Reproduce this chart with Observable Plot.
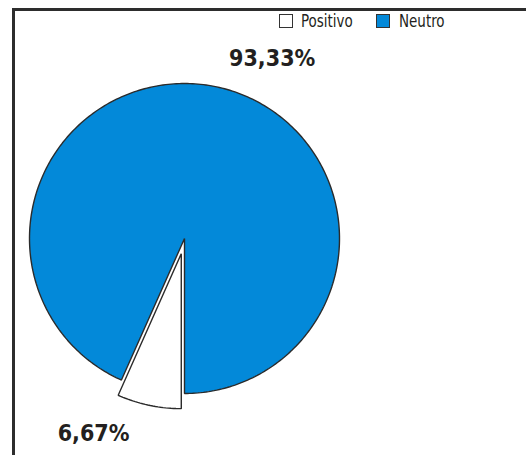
<!DOCTYPE html>
<html>
<head>
<meta charset="utf-8">
<script src="https://cdn.jsdelivr.net/npm/d3@7"></script>
<script src="https://cdn.jsdelivr.net/npm/@observablehq/plot@0.6"></script>
<style>
  html, body { margin: 0; padding: 0; background: #fff; }
  #wrap { position: relative; width: 526px; height: 455px; overflow: hidden; background: #fff; }
  #border { position: absolute; left: 12px; top: 8px; width: 600px; height: 600px; border: 3px solid #2d2d2d; box-sizing: border-box; }
  #chart { position: absolute; left: 0; top: 0; }
  #legend { position: absolute; left: 0; top: 0; width: 526px; height: 40px; font-family: "DejaVu Sans Condensed", "DejaVu Sans", sans-serif; font-stretch: condensed; font-size: 17px; color: #231f20; }
  .sw { position: absolute; top: 14px; width: 14px; height: 14px; border: 1px solid #333; box-sizing: border-box; }
  .lt { position: absolute; top: 11px; line-height: 20px; white-space: nowrap; transform: scaleX(0.88); transform-origin: left center; }
  #chart text { font-stretch: condensed; }
</style>
</head>
<body>
<div id="wrap">
  <div id="border"></div>
  <div id="chart"></div>
  <div id="legend"></div>
</div>
<script>
const categories = ["Positivo", "Neutro"];
const values = [6.67, 93.33];
const labels = ["6,67%", "93,33%"];
const colors = ["#ffffff", "#0389d9"];
const exploded = [0.1, 0];

const startAngle = Math.PI;          // pie starts at the bottom, clockwise
const total = d3.sum(values);
const labelShift = 14 * Math.PI / 180;
const labelR = 1.29;

const polys = [];
const labelRows = [];
let a0 = startAngle;
categories.forEach((c, i) => {
  const a1 = a0 + values[i] / total * 2 * Math.PI;
  const mid = (a0 + a1) / 2;
  const ox = exploded[i] * Math.sin(mid), oy = exploded[i] * Math.cos(mid);
  polys.push({cat: c, x: ox, y: oy, k: 0});
  const n = Math.max(2, Math.ceil((a1 - a0) / (Math.PI / 180)));
  for (let j = 0; j <= n; j++) {
    const a = a0 + (a1 - a0) * j / n;
    polys.push({cat: c, x: ox + Math.sin(a), y: oy + Math.cos(a), k: j + 1});
  }
  const la = mid + labelShift;
  labelRows.push({cat: c, text: labels[i], x: ox + labelR * Math.sin(la), y: oy + labelR * Math.cos(la)});
  a0 = a1;
});

const cx = 184, cy = 238, R = 155;
const chart = Plot.plot({
  width: 526,
  height: 455,
  margin: 0,
  style: {background: "transparent", overflow: "visible"},
  x: {domain: [-1, 1], range: [cx - R, cx + R], axis: null},
  y: {domain: [-1, 1], range: [cy + R, cy - R], axis: null},
  color: {domain: categories, range: colors},
  marks: [
    Plot.line(polys, {x: "x", y: "y", z: "cat", fill: "cat", stroke: "#2b2b2b", strokeWidth: 1.4, curve: "linear-closed", strokeLinejoin: "miter"}),
    Plot.text(labelRows, {x: "x", y: "y", text: "text", fill: "#231f20", fontSize: 23, fontWeight: "bold", fontFamily: "DejaVu Sans Condensed, DejaVu Sans, sans-serif"})
  ]
});
document.getElementById("chart").appendChild(chart);

const legend = document.getElementById("legend");
const swX = [279, 376], txtX = [301, 399];
categories.forEach((c, i) => {
  const sw = document.createElement("div");
  sw.className = "sw";
  sw.style.left = swX[i] + "px";
  sw.style.background = colors[i];
  const t = document.createElement("span");
  t.className = "lt";
  t.style.left = txtX[i] + "px";
  t.textContent = c;
  legend.appendChild(sw); legend.appendChild(t);
});
</script>
</body>
</html>
